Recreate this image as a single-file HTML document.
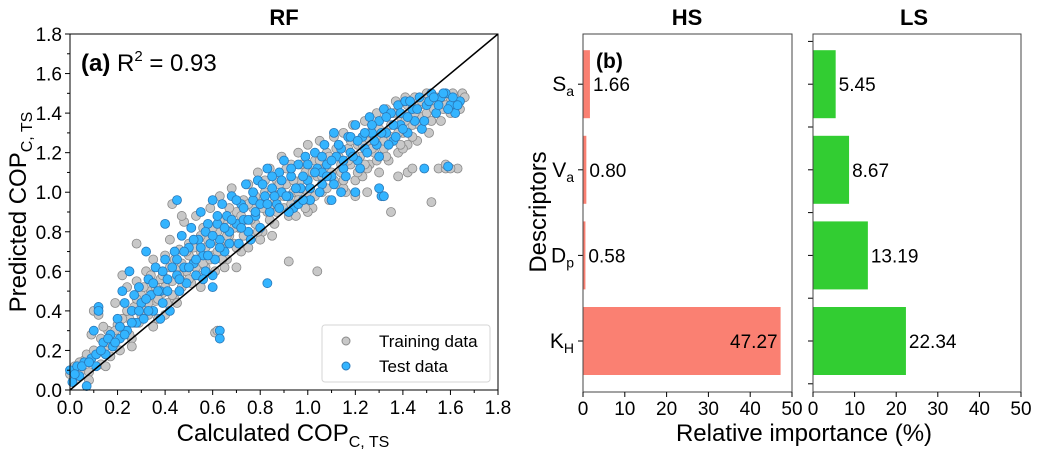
<!DOCTYPE html>
<html><head><meta charset="utf-8"><style>
body{margin:0;background:#fff;}
svg{display:block;font-family:"Liberation Sans","DejaVu Sans",sans-serif;}
</style></head><body>
<svg id="c" width="1040" height="451" viewBox="0 0 1040 451"></svg>
<script>
const trainPts=[[0.00,0.08],[0.02,0.12],[0.03,0.06],[0.05,0.10],[0.06,0.15],[0.08,0.09],[0.09,0.28],[0.10,0.40],[0.11,0.18],[0.12,0.38],[0.13,0.13],[0.15,0.22],[0.16,0.30],[0.17,0.17],[0.18,0.25],[0.19,0.44],[0.20,0.33],[0.21,0.20],[0.22,0.58],[0.23,0.30],[0.24,0.52],[0.25,0.36],[0.26,0.26],[0.27,0.42],[0.28,0.55],[0.29,0.34],[0.30,0.48],[0.31,0.40],[0.32,0.60],[0.33,0.38],[0.34,0.50],[0.35,0.66],[0.36,0.45],[0.37,0.36],[0.38,0.56],[0.39,0.49],[0.40,0.68],[0.41,0.44],[0.42,0.76],[0.43,0.55],[0.44,0.46],[0.45,0.62],[0.46,0.71],[0.47,0.52],[0.48,0.85],[0.49,0.60],[0.50,0.74],[0.51,0.54],[0.52,0.66],[0.53,0.88],[0.54,0.58],[0.55,0.70],[0.56,0.82],[0.57,0.62],[0.58,0.76],[0.59,0.92],[0.60,0.68],[0.61,0.60],[0.62,0.80],[0.63,0.98],[0.64,0.72],[0.65,0.86],[0.66,0.66],[0.67,0.78],[0.68,1.02],[0.69,0.74],[0.70,0.90],[0.71,0.82],[0.72,0.70],[0.73,0.96],[0.74,0.86],[0.75,1.04],[0.76,0.78],[0.77,0.92],[0.78,0.84],[0.79,1.10],[0.80,0.96],[0.81,0.80],[0.82,1.00],[0.83,0.90],[0.84,1.12],[0.85,0.94],[0.86,0.84],[0.87,1.06],[0.88,0.98],[0.89,1.18],[0.90,0.92],[0.91,1.04],[0.92,0.88],[0.93,1.14],[0.94,1.00],[0.95,0.94],[0.96,1.20],[0.97,1.06],[0.98,0.96],[0.99,1.10],[1.00,1.24],[1.01,1.02],[1.02,0.92],[1.03,1.16],[1.04,1.08],[1.05,1.26],[1.06,1.00],[1.07,1.12],[1.08,1.20],[1.09,0.96],[1.10,1.10],[1.11,1.28],[1.12,1.04],[1.13,1.18],[1.14,1.10],[1.15,1.30],[1.16,1.00],[1.17,1.22],[1.18,1.14],[1.19,1.34],[1.20,1.06],[1.21,1.24],[1.22,1.18],[1.23,1.08],[1.24,1.36],[1.25,1.26],[1.26,1.14],[1.27,1.30],[1.28,1.20],[1.29,1.40],[1.30,1.10],[1.31,1.28],[1.32,1.22],[1.33,1.42],[1.34,1.16],[1.35,1.34],[1.36,1.26],[1.37,1.46],[1.38,1.20],[1.39,1.38],[1.40,1.30],[1.41,1.48],[1.42,1.24],[1.43,1.40],[1.44,1.34],[1.45,1.48],[1.46,1.26],[1.47,1.44],[1.48,1.38],[1.50,1.50],[1.52,1.36],[1.53,1.46],[1.55,1.12],[1.57,1.42],[1.58,1.12],[1.60,1.46],[1.62,1.48],[1.64,1.42],[1.65,1.50],[1.63,1.12],[0.43,0.94],[0.47,0.88],[0.61,0.29],[0.62,0.30],[0.92,0.65],[1.04,0.60],[1.35,0.90],[1.52,0.95],[0.28,0.74],[0.50,0.68],[0.70,0.62],[0.85,0.78],[1.00,0.90],[1.15,1.02],[1.25,1.12],[1.40,1.22],[0.35,0.32],[0.55,0.52],[0.75,0.72],[0.95,0.88],[0.15,0.12],[0.40,0.38],[0.65,0.62],[0.80,0.76],
[0.04,0.14],[0.07,0.18],[0.10,0.20],[0.13,0.26],[0.14,0.32],[0.16,0.24],[0.19,0.30],[0.20,0.26],[0.22,0.36],[0.24,0.40],[0.25,0.28],[0.27,0.34],[0.28,0.46],[0.30,0.38],[0.31,0.52],[0.33,0.44],[0.34,0.58],[0.36,0.52],[0.37,0.46],[0.39,0.58],[0.40,0.52],[0.42,0.62],[0.43,0.48],[0.44,0.66],[0.46,0.58],[0.47,0.64],[0.49,0.70],[0.50,0.56],[0.52,0.72],[0.53,0.62],[0.55,0.78],[0.56,0.64],[0.57,0.72],[0.59,0.66],[0.60,0.82],[0.62,0.70],[0.63,0.86],[0.64,0.66],[0.66,0.78],[0.67,0.92],[0.69,0.82],[0.70,0.72],[0.72,0.88],[0.73,0.78],[0.75,0.94],[0.76,0.86],[0.78,0.98],[0.79,0.80],[0.81,0.92],[0.82,1.06],[0.84,0.86],[0.85,1.00],[0.87,0.90],[0.88,1.04],[0.90,0.98],[0.91,1.12],[0.93,0.94],[0.94,1.06],[0.96,1.00],[0.97,1.14],[0.99,0.92],[1.00,1.00],[1.02,1.10],[1.03,0.98],[1.05,1.16],[1.06,1.08],[1.08,1.02],[1.09,1.18],[1.11,1.06],[1.12,1.22],[1.14,1.14],[1.15,1.06],[1.17,1.16],[1.18,1.26],[1.20,1.18],[1.21,1.10],[1.23,1.24],[1.24,1.14],[1.26,1.30],[1.27,1.22],[1.29,1.16],[1.30,1.32],[1.32,1.26],[1.33,1.18],[1.35,1.28],[1.36,1.40],[1.38,1.30],[1.39,1.24],[1.41,1.36],[1.42,1.44],[1.44,1.28],[1.45,1.40],[1.47,1.34],[1.48,1.46],[1.50,1.40],[1.51,1.30],[1.53,1.42],[1.54,1.48],[1.56,1.36],[1.58,1.44],[1.60,1.40],[1.61,1.50],[1.63,1.44],[1.66,1.48],[1.58,1.14],[1.60,1.12],[1.38,1.08],[1.42,1.10],[1.44,1.12],[1.25,1.00],[1.20,0.98],[0.96,0.96],[0.63,0.74],[0.45,0.44],[0.26,0.22],[0.08,0.05]];
const testPts=[[0.00,0.10],[0.01,0.04],[0.03,0.12],[0.04,0.07],[0.06,0.14],[0.07,0.02],[0.09,0.16],[0.10,0.30],[0.11,0.12],[0.12,0.42],[0.14,0.24],[0.15,0.18],[0.17,0.28],[0.18,0.22],[0.20,0.36],[0.21,0.26],[0.23,0.44],[0.24,0.30],[0.25,0.60],[0.26,0.40],[0.28,0.34],[0.29,0.52],[0.30,0.44],[0.31,0.36],[0.33,0.56],[0.34,0.48],[0.35,0.40],[0.36,0.62],[0.38,0.50],[0.39,0.44],[0.40,0.66],[0.41,0.56],[0.42,0.40],[0.44,0.70],[0.45,0.58],[0.46,0.50],[0.47,0.78],[0.48,0.62],[0.49,0.54],[0.50,0.72],[0.51,0.82],[0.52,0.64],[0.53,0.58],[0.54,0.76],[0.55,0.90],[0.56,0.68],[0.57,0.60],[0.58,0.84],[0.59,0.74],[0.60,0.96],[0.61,0.66],[0.62,0.84],[0.63,0.76],[0.64,0.94],[0.65,0.70],[0.66,0.88],[0.67,0.80],[0.68,0.98],[0.70,0.84],[0.71,0.74],[0.72,0.94],[0.73,0.86],[0.74,1.04],[0.75,0.80],[0.77,0.96],[0.78,0.88],[0.79,1.06],[0.80,0.82],[0.82,0.98],[0.83,1.12],[0.84,0.90],[0.85,1.02],[0.87,0.94],[0.88,1.10],[0.89,1.00],[0.90,1.16],[0.92,0.98],[0.93,1.08],[0.94,0.92],[0.96,1.14],[0.97,1.02],[0.99,1.18],[1.00,1.06],[1.01,0.96],[1.03,1.20],[1.04,1.12],[1.06,1.04],[1.07,1.24],[1.08,1.14],[1.10,1.08],[1.11,1.30],[1.12,1.18],[1.14,1.22],[1.15,1.12],[1.17,1.28],[1.18,1.20],[1.20,1.34],[1.21,1.16],[1.23,1.28],[1.24,1.22],[1.26,1.38],[1.27,1.30],[1.29,1.24],[1.30,1.36],[1.32,1.42],[1.33,1.30],[1.35,1.40],[1.36,1.26],[1.38,1.44],[1.39,1.34],[1.41,1.46],[1.42,1.30],[1.44,1.42],[1.45,1.36],[1.47,1.48],[1.48,1.32],[1.50,1.44],[1.52,1.50],[1.54,1.40],[1.56,1.48],[1.58,1.50],[1.60,1.44],[1.62,1.40],[1.64,1.46],[1.49,1.12],[1.31,0.98],[1.30,1.02],[1.14,1.00],[0.63,0.30],[0.63,0.26],[0.60,0.52],[0.83,0.54],[0.45,0.96],[0.12,0.40],[0.40,0.84],[0.56,0.56],[0.76,0.76],[0.92,0.90],[1.06,1.10],[0.32,0.70],[0.22,0.50],
[0.02,0.08],[0.05,0.12],[0.08,0.14],[0.11,0.18],[0.13,0.20],[0.16,0.26],[0.19,0.24],[0.21,0.32],[0.23,0.28],[0.26,0.34],[0.27,0.48],[0.29,0.40],[0.32,0.46],[0.33,0.40],[0.35,0.54],[0.37,0.50],[0.39,0.60],[0.41,0.50],[0.43,0.62],[0.45,0.66],[0.46,0.56],[0.48,0.70],[0.50,0.62],[0.52,0.76],[0.53,0.66],[0.55,0.72],[0.57,0.80],[0.58,0.68],[0.60,0.78],[0.62,0.88],[0.63,0.72],[0.65,0.82],[0.67,0.74],[0.68,0.86],[0.70,0.96],[0.72,0.82],[0.73,0.92],[0.75,0.86],[0.77,1.00],[0.78,0.90],[0.80,0.94],[0.81,1.04],[0.83,0.94],[0.85,1.08],[0.86,0.98],[0.88,0.92],[0.89,1.06],[0.91,0.98],[0.93,1.12],[0.95,1.02],[0.96,0.94],[0.98,1.08],[1.00,1.14],[1.01,1.02],[1.03,1.10],[1.05,1.00],[1.06,1.18],[1.08,1.08],[1.10,1.16],[1.11,1.04],[1.13,1.24],[1.15,1.16],[1.16,1.08],[1.18,1.28],[1.19,1.18],[1.21,1.26],[1.22,1.12],[1.24,1.30],[1.25,1.20],[1.27,1.34],[1.28,1.26],[1.30,1.18],[1.31,1.30],[1.33,1.38],[1.34,1.24],[1.36,1.34],[1.37,1.28],[1.39,1.40],[1.40,1.32],[1.42,1.38],[1.43,1.46],[1.46,1.42],[1.49,1.36],[1.51,1.46],[1.53,1.48],[1.55,1.44],[1.57,1.50],[1.59,1.42],[1.61,1.48],[1.63,1.44],[1.59,1.13],[1.32,0.98],[1.20,1.00],[1.10,0.96],[0.98,0.96],[0.60,0.58],[0.38,0.36]];
const descriptors=["K_H","D_p","V_a","S_a"];
const hsValues=[47.27,0.58,0.80,1.66];
const lsValues=[22.34,13.19,8.67,5.45];
const hsLabels=["47.27","0.58","0.80","1.66"];
const lsLabels=["22.34","13.19","8.67","5.45"];
const scatterTicks=[0,0.2,0.4,0.6,0.8,1.0,1.2,1.4,1.6,1.8];
const barTicks=[0,10,20,30,40,50];

const NS="http://www.w3.org/2000/svg";
const svg=document.getElementById('c');
function mk(tag,attrs,parent,text){const e=document.createElementNS(NS,tag);for(const k in attrs)e.setAttribute(k,attrs[k]);if(text!==undefined)e.textContent=text;(parent||svg).appendChild(e);return e;}

const L=70,R=498,T=34,B=390;
const sx=v=>L+(v/1.8)*(R-L), sy=v=>B-(v/1.8)*(B-T);
const g1=mk('g',{});


for(const p of trainPts){const c=mk('circle',{cx:sx(p[0]),cy:sy(p[1]),r:4.5,fill:'#c8c8c8',stroke:'#8a8a8a','stroke-width':0.8},g1);

}
for(const p of testPts){const c=mk('circle',{cx:sx(p[0]),cy:sy(p[1]),r:4.5,fill:'#33b4ff',stroke:'#2a78b8','stroke-width':0.8},g1);

}
const dl=mk('line',{x1:sx(0),y1:sy(0),x2:sx(1.8),y2:sy(1.8),stroke:'#000','stroke-width':1.5});


mk('rect',{x:L,y:T,width:R-L,height:B-T,fill:'none',stroke:'#000','stroke-width':1});
for(const t of scatterTicks){
 mk('line',{x1:sx(t),y1:B,x2:sx(t),y2:B+5,stroke:'#000'});
 const xt=mk('text',{x:sx(t),y:B+24,'text-anchor':'middle','font-size':19},svg,t.toFixed(1));
 
 
 mk('line',{x1:L-5,y1:sy(t),x2:L,y2:sy(t),stroke:'#000'});
 const yt=mk('text',{x:L-8,y:sy(t)+7,'text-anchor':'end','font-size':19},svg,t.toFixed(1));
 
 
}
for(let i=0;i<scatterTicks.length-1;i++){const m=(scatterTicks[i]+scatterTicks[i+1])/2;
 mk('line',{x1:sx(m),y1:B,x2:sx(m),y2:B+3,stroke:'#000'});mk('line',{x1:L-3,y1:sy(m),x2:L,y2:sy(m),stroke:'#000'});}
</script>
<script>
svg.insertAdjacentHTML('beforeend',`
<text x="284" y="25" text-anchor="middle" font-size="22" font-weight="bold">RF</text>
<text x="687" y="25" text-anchor="middle" font-size="22" font-weight="bold">HS</text>
<text x="914" y="25" text-anchor="middle" font-size="22" font-weight="bold">LS</text>
<text x="81" y="71" font-size="24"><tspan font-weight="bold">(a)</tspan> R<tspan dy="-10" font-size="15">2</tspan><tspan dy="10"> = 0.93</tspan></text>
<text x="283" y="441" text-anchor="middle" font-size="24">Calculated COP<tspan dy="6" font-size="16">C, TS</tspan></text>
<text transform="translate(26,212) rotate(-90)" text-anchor="middle" font-size="24">Predicted COP<tspan dy="6" font-size="16">C, TS</tspan></text>
<g>
<rect x="322" y="325" width="168" height="57" rx="3" fill="#fff" fill-opacity="0.85" stroke="#d6d6d6"/>
<circle cx="346" cy="341" r="4" fill="#c8c8c8" stroke="#8a8a8a"/>
<text x="379" y="347" font-size="17">Training data</text>
<circle cx="346" cy="366" r="4" fill="#33b4ff" stroke="#2a78b8"/>
<text x="379" y="372" font-size="17">Test data</text>
</g>
<text x="596" y="68" font-size="21" font-weight="bold">(b)</text>
<text transform="translate(546,212) rotate(-90)" text-anchor="middle" font-size="24">Descriptors</text>
<text x="804" y="441" text-anchor="middle" font-size="24">Relative importance (%)</text>
`);
</script>
<script>
const bT=34,bB=392;
const step=85.6;
const cy=i=>341-i*step;
const bh=68;
function panel(x0,x1,vals,labels,color,name,showY){
 const bx=v=>x0+(v/50)*(x1-x0);
 const g=mk('g',{});
 
 
 vals.forEach((v,i)=>{
  const r=mk('rect',{x:bx(0),y:cy(i)-bh/2,width:bx(v)-bx(0),height:bh,fill:color},g);
  
  
  const inside=bx(v)>x1-40;
  const t=mk('text',{x:inside?bx(v)-3:bx(v)+3,y:cy(i)+7,'text-anchor':inside?'end':'start','font-size':19},g,labels[i]);
  
  
  mk('line',{x1:x0-5,y1:cy(i),x2:x0,y2:cy(i),stroke:'#000'},g);
  if(!showY){mk('line',{x1:x0-5,y1:cy(i)+step/2,x2:x0,y2:cy(i)+step/2,stroke:'#000'},g);
   if(i===vals.length-1)mk('line',{x1:x0-5,y1:cy(i)-step/2,x2:x0,y2:cy(i)-step/2,stroke:'#000'},g);}
  if(showY){const p=descriptors[i].split('_');
   const yl=mk('text',{x:x0-9,y:cy(i)+7,'text-anchor':'end','font-size':21},g);
   
   
   mk('tspan',{},yl,p[0]);mk('tspan',{dy:5,'font-size':14},yl,p[1]);}
 });
 mk('rect',{x:x0,y:bT,width:x1-x0,height:bB-bT,fill:'none',stroke:'#444'},g);
 barTicks.forEach(t=>{mk('line',{x1:bx(t),y1:bB,x2:bx(t),y2:bB+5,stroke:'#000'},g);
  const tl=mk('text',{x:bx(t),y:bB+23,'text-anchor':'middle','font-size':19},g,String(t));
  
  });
}
panel(583,792,hsValues,hsLabels,'#fa8072','hs-bar-chart',true);
panel(813,1021,lsValues,lsLabels,'#32cd32','ls-bar-chart',false);
</script>
</body></html>
